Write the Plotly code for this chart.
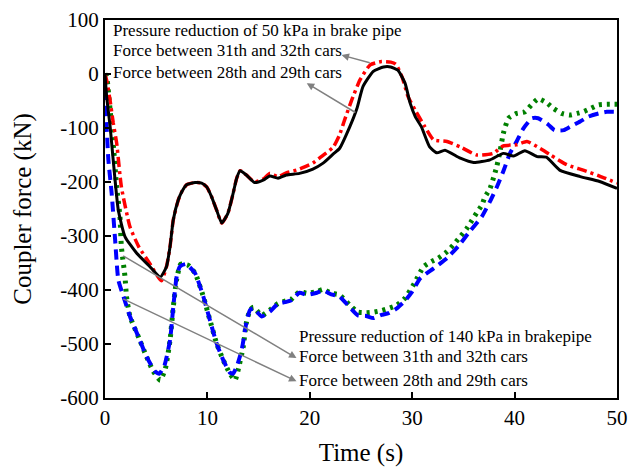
import plotly.graph_objects as go

# 50 kPa, force between 28th and 29th cars (black solid)
t_black = [0, 0.16, 0.5, 0.8, 1.3, 1.95, 3.1, 4.3, 5.4, 6.0, 6.35, 6.67, 7.16, 7.5, 7.97, 8.8, 9.44, 9.93,
           10.4, 10.9, 11.4, 12.0, 12.5, 12.86, 13.2, 13.8, 14.6, 15.5, 16.1, 16.9, 17.7, 19.0, 20.3, 21.3,
           22.3, 22.9, 23.9, 24.6, 25.2, 26.2, 27.2, 27.9, 28.6, 29.3, 29.8, 30.3, 30.9, 31.7, 32.4, 33.2,
           34.7, 36.0, 37.6, 38.9, 39.9, 41.0, 42.2, 43.1, 44.4, 46.4, 48.3, 50]
f_black = [0, -42, -97, -159, -252, -301, -332, -355, -376, -357, -320, -270, -233, -218, -205, -201, -202, -209,
           -227, -252, -276, -258, -222, -193, -179, -187, -201, -196, -189, -193, -187, -184, -176, -165,
           -148, -138, -98, -64, -23, 5, 13, 13, 7, -17, -54, -79, -98, -135, -146, -141,
           -156, -164, -159, -147, -152, -142, -153, -154, -178, -190, -199, -212]

# 50 kPa, force between 31th and 32th cars (red dash-dot)
t_red = [0, 0.2, 0.49, 0.8, 1.14, 1.6, 2.44, 3.3, 4.4, 5.5, 6.0, 6.35, 6.67, 7.16, 7.5, 7.97, 8.8, 9.44, 9.93,
         10.4, 10.9, 11.4, 12.0, 12.5, 12.86, 13.2, 13.8, 14.6, 15.5, 16.1, 16.9, 17.7, 18.7, 19.5, 20.3, 21.0,
         22.3, 22.9, 23.4, 24.1, 24.9, 25.9, 27.0, 27.9, 28.4, 29.0, 29.6, 30.3, 31.25, 32.1, 33.4, 34.7,
         36.3, 37.9, 38.9, 40.2, 41.2, 42.5, 43.5, 45.1, 46.7, 48.3, 50]
f_red = [0, -15, -48, -90, -128, -209, -283, -320, -352, -383, -357, -320, -270, -233, -218, -205, -201, -202, -209,
         -227, -252, -276, -258, -222, -193, -179, -187, -200, -194, -184, -190, -183, -178, -172, -165, -155,
         -135, -113, -85, -48, -11, 17, 23, 22, 18, -5, -42, -67, -98, -122, -125, -135,
         -150, -147, -133, -131, -125, -138, -150, -168, -178, -189, -202]

# 140 kPa, force between 28th and 29th cars (blue dashed)
t_blue = [0, 0.05, 0.16, 0.33, 0.65, 0.98, 1.3, 1.8, 2.44, 3.4, 4.07, 4.9, 5.3, 5.8, 6.35, 6.67, 7.0, 7.3, 7.9,
          8.8, 9.6, 10.25, 10.9, 11.55, 12.2, 12.5, 12.86, 13.35, 13.8, 14.16, 14.5, 15.3, 16.1, 16.9, 17.7,
          18.2, 19.0, 19.7, 20.7, 21.3, 22.1, 22.9, 23.9, 24.7, 25.5, 26.2, 27.0, 27.7, 28.5, 29.3, 30.0,
          30.8, 32.1, 33.4, 34.5, 35.6, 36.8, 37.6, 38.25, 38.9, 39.55, 40.2, 40.85, 41.7, 42.3, 43.3, 43.9,
          44.8, 45.4, 46.4, 47.2, 48.2, 49.0, 50]
f_blue = [0, -36, -97, -159, -221, -305, -381, -412, -449, -493, -524, -551, -555, -540, -493, -431, -375, -357, -352,
          -369, -412, -456, -499, -530, -553, -555, -542, -511, -461, -437, -434, -449, -440, -425, -422,
          -419, -405, -409, -405, -401, -408, -412, -432, -447, -448, -452, -446, -443, -434, -420, -403,
          -378, -360, -341, -319, -292, -264, -236, -210, -180, -147, -125, -101, -82, -82, -94, -104,
          -104, -98, -88, -79, -73, -70, -70]

# 140 kPa, force between 31th and 32th cars (green dotted)
t_green = [0, 0.16, 0.5, 0.8, 1.14, 1.46, 1.6, 1.95, 2.1, 2.44, 3.4, 4.07, 4.7, 5.4, 5.9, 6.35, 6.67, 7.0, 7.4,
           8.1, 8.8, 9.6, 10.25, 10.9, 11.55, 12.2, 12.7, 13.1, 13.5, 13.8, 14.16, 14.5, 15.3, 16.1, 16.9,
           17.7, 18.2, 19.0, 19.7, 20.7, 21.3, 22.1, 22.9, 23.9, 24.7, 25.5, 26.2, 27.0, 27.7, 28.5, 29.3,
           30.2, 31.1, 31.9, 32.55, 33.4, 34.0, 34.7, 35.3, 35.8, 36.3, 36.8, 37.1, 37.6, 38.25, 38.6, 38.9,
           39.4, 40.2, 41.0, 41.7, 42.3, 43.1, 43.8, 44.6, 45.4, 46.1, 46.7, 47.4, 48.2, 49.0, 50]
f_green = [0, -5, -67, -128, -209, -264, -320, -375, -412, -449, -493, -524, -550, -567, -545, -493, -431, -380, -352,
           -354, -369, -412, -456, -499, -530, -555, -567, -540, -505, -461, -437, -432, -447, -437, -425,
           -420, -417, -403, -406, -403, -399, -406, -409, -428, -441, -442, -441, -438, -434, -428, -415,
           -388, -357, -347, -341, -329, -317, -301, -287, -272, -257, -243, -228, -212, -172, -141, -110,
           -82, -73, -70, -56, -46, -53, -64, -73, -76, -73, -70, -64, -57, -56, -56]

x_ticks = [0, 10, 20, 30, 40, 50]
y_ticks = [-600, -500, -400, -300, -200, -100, 0, 100]
y_tick_text = ["-600", "-500", "-400", "-300", "-200", "-100", "0", "100"]

FONT = "Liberation Serif"

fig = go.Figure()
fig.add_trace(go.Scatter(x=t_green, y=f_green, mode="lines", line=dict(color="#008000", width=5, dash="3px,5px", shape="spline", smoothing=0.5)))
fig.add_trace(go.Scatter(x=t_blue, y=f_blue, mode="lines", line=dict(color="#0000ff", width=4, dash="10px,6px", shape="spline", smoothing=0.5)))
fig.add_trace(go.Scatter(x=t_red, y=f_red, mode="lines", line=dict(color="#ff0000", width=3.5, dash="10px,4px,3px,4px", shape="spline", smoothing=0.5)))
fig.add_trace(go.Scatter(x=t_black, y=f_black, mode="lines", line=dict(color="#000000", width=3, shape="spline", smoothing=0.5)))

# arrows (tail on curve -> head at text)
arrows = [((26.0, 20), (23.1, 35)), ((24.6, -73), (19.7, -17)),
          ((1.63, -335), (18.7, -526)), ((1.63, -415), (18.7, -569))]
for (tx, ty), (hx, hy) in arrows:
    fig.add_annotation(x=hx, y=hy, ax=tx, ay=ty, xref="x", yref="y", axref="x", ayref="y",
                       text="", showarrow=True, arrowhead=2, arrowsize=1, arrowwidth=1.5, arrowcolor="#808080")

texts_top = ["Pressure reduction of 50 kPa in brake pipe", "Force between 31th and 32th cars", "Force between 28th and 29th cars"]
ys_top = [80, 43, 2]
for s, yv in zip(texts_top, ys_top):
    fig.add_annotation(x=0.6, y=yv, xref="x", yref="y", text=s, showarrow=False, xanchor="left", yanchor="middle",
                       font=dict(family=FONT, size=17, color="black"))
texts_bot = ["Pressure reduction of 140 kPa in brakepipe", "Force between 31th and 32th cars", "Force between 28th and 29th cars"]
ys_bot = [-487, -524, -567]
for s, yv in zip(texts_bot, ys_bot):
    fig.add_annotation(x=18.75, y=yv, xref="x", yref="y", text=s, showarrow=False, xanchor="left", yanchor="middle",
                       font=dict(family=FONT, size=17, color="black"))

fig.update_layout(
    width=628, height=467, margin=dict(l=105, r=11, t=20, b=69, autoexpand=False),
    paper_bgcolor="white", plot_bgcolor="white", showlegend=False,
    font=dict(family=FONT, color="black"),
    xaxis=dict(range=[0, 50], tickvals=x_ticks, ticks="inside", ticklen=6, tickwidth=2, tickcolor="black",
               showline=True, linewidth=2, linecolor="black", mirror=True, showgrid=False, zeroline=False,
               automargin=False,
               tickfont=dict(family=FONT, size=21), title=dict(text="Time (s)", font=dict(family=FONT, size=25), standoff=20)),
    yaxis=dict(range=[-600, 100], tickvals=y_ticks, ticktext=y_tick_text, ticks="inside", ticklen=6, tickwidth=2, tickcolor="black",
               showline=True, linewidth=2, linecolor="black", mirror=True, showgrid=False, zeroline=False,
               automargin=False,
               tickfont=dict(family=FONT, size=21), title=dict(text="Coupler force (kN)", font=dict(family=FONT, size=25), standoff=22)),
)
fig.write_html("out.html")
